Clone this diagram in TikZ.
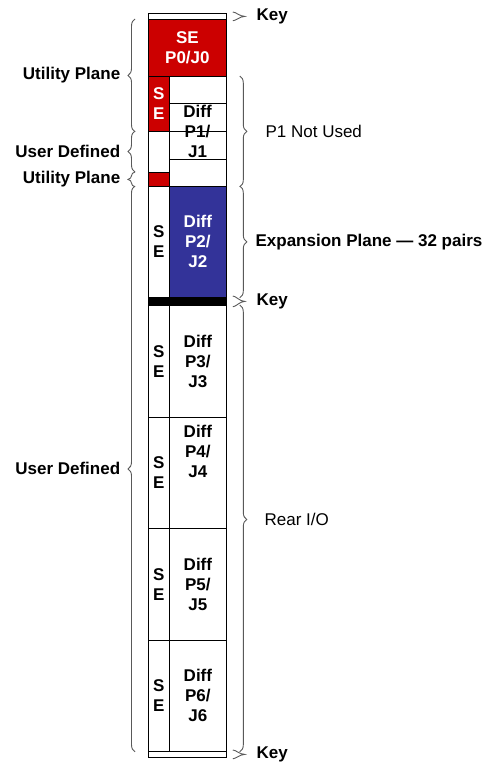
\documentclass[tikz,border=0pt]{standalone}
\usepackage{fontspec}
\setmainfont{Liberation Sans}
\usepackage{xcolor}
\usepackage{tikz}
\usetikzlibrary{positioning,decorations.pathreplacing}
\definecolor{utilred}{RGB}{204,0,0}
\definecolor{expblue}{RGB}{51,51,153}
\tikzset{
  slot/.style={rectangle,draw=black,line width=.8pt,fill=white,inner sep=0pt,anchor=north west,
    align=center,font=\bfseries\fontsize{17}{20}\selectfont},
  utilslot/.style={slot,fill=utilred,text=white},
  expslot/.style={slot,fill=expblue,text=white},
  keyslot/.style={slot,minimum width=78pt,minimum height=6pt},
  barslot/.style={slot,fill=black,minimum width=78pt,minimum height=8pt},
  txt/.style={align=center,inner sep=0pt,font=\bfseries\fontsize{17}{20}\selectfont},
  brc/.style={decorate,decoration={brace,amplitude=7pt},draw=black!65,line width=.9pt},
  keybrc/.style={draw=black!65,line width=.9pt},
  lab/.style={font=\bfseries\fontsize{17}{20}\selectfont},
  labn/.style={font=\fontsize{17}{20}\selectfont}
}
\begin{document}
\begin{tikzpicture}[x=1pt,y=-1pt]
  \useasboundingbox (0,0) rectangle (487,765);
  % utility plane and P1
  \node[keyslot] (k0) at (148,13) {};
  \node[utilslot,minimum width=78pt,minimum height=57pt] (p0) at (148,19) {SE\\P0/J0};
  \node[utilslot,minimum width=21pt,minimum height=55pt] (se1) at (148,76) {S\\E};
  \node[slot,minimum width=21pt,minimum height=41pt] (ud1) at (148,131) {};
  \node[utilslot,minimum width=21pt,minimum height=14pt] (up1) at (148,172) {};
  \node[slot,minimum width=57pt,minimum height=27.5pt] (d1a) at (169,76) {};
  \node[slot,minimum width=57pt,minimum height=27.5pt] (d1b) at (169,103.5) {};
  \node[slot,minimum width=57pt,minimum height=27.5pt] (d1c) at (169,131) {};
  \node[slot,minimum width=57pt,minimum height=27.5pt] (d1d) at (169,158.5) {};
  \node[txt] (t1) at (197.5,131) {Diff\\P1/\\J1};
  % expansion plane
  \node[slot,minimum width=21pt,minimum height=111pt] (se2) at (148,186) {S\\E};
  \node[expslot,minimum width=57pt,minimum height=111pt] (d2) at (169,186) {Diff\\P2/\\J2};
  \node[barslot] (bar) at (148,297) {};
  % rear I/O
  \foreach \i/\y/\s in {3/305/0,4/416.5/21,5/528/0,6/639.5/0}{
    \node[slot,minimum width=21pt,minimum height=111.5pt] (se\i) at (148,\y) {S\\E};
    \node[slot,minimum width=57pt,minimum height=111.5pt] (d\i) at (169,\y) {};
    \node[txt] (t\i) at ([yshift=\s pt]d\i.center) {Diff\\P\i/\\J\i};
  }
  \node[keyslot] (k1) at (148,751) {};
  % left braces
  \draw[brc] ([xshift=-13pt]se1.south west) -- ([xshift=-13pt]p0.north west)
    node[lab,midway,left=11pt] {Utility Plane};
  \draw[brc] ([xshift=-13pt]up1.north west) -- ([xshift=-13pt]ud1.north west)
    node[lab,midway,left=11pt] {User Defined};
  \draw[brc] ([xshift=-13pt]up1.south west) -- ([xshift=-13pt]up1.north west)
    node[lab,midway,left=11pt] {Utility Plane};
  \draw[brc] ([xshift=-13pt]se6.south west) -- ([xshift=-13pt]se2.north west)
    node[lab,midway,left=11pt] {User Defined};
  % right braces
  \foreach \k in {k0,bar,k1}{
    \draw[keybrc] ([xshift=6pt,yshift=1pt]\k.north east) .. controls +(3,0) and +(-5,0) ..
      ([xshift=18pt]\k.east) node[lab,right=8pt] {Key} .. controls +(-5,0) and +(3,0) ..
      ([xshift=6pt,yshift=-1pt]\k.south east);
  }
  \draw[brc] ([xshift=13pt]d1a.north east) -- ([xshift=13pt]d1d.south east)
    node[labn,midway,right=22pt] {P1 Not Used};
  \draw[brc] ([xshift=13pt]d2.north east) -- ([xshift=13pt]d2.south east)
    node[lab,midway,right=12pt] {Expansion Plane --- 32 pairs};
  \draw[brc,decoration={aspect=.48}] ([xshift=13pt]d3.north east) -- ([xshift=13pt]d6.south east)
    node[labn,pos=.48,right=21pt] {Rear I/O};
\end{tikzpicture}
\end{document}
